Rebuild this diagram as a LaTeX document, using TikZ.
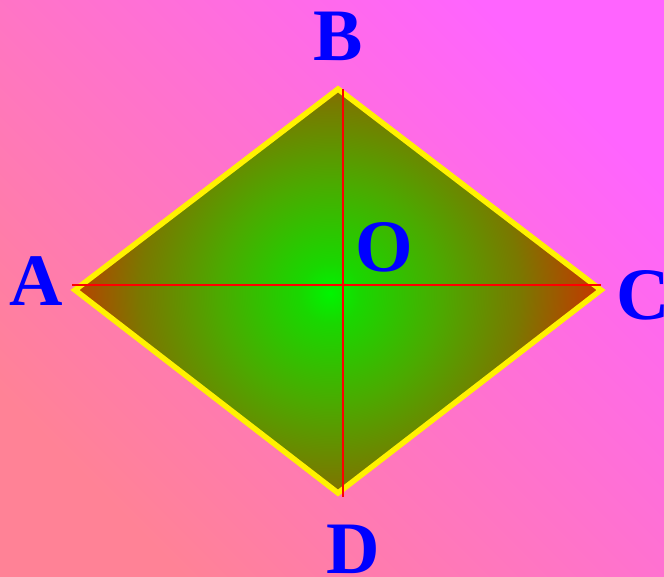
\documentclass[tikz,border=0pt]{standalone}
\usepackage{fontspec}
\setmainfont{Liberation Serif}
\definecolor{bgtr}{RGB}{255,100,255}
\definecolor{bgbl}{RGB}{255,130,150}
\definecolor{gA}{RGB}{0,245,0}
\definecolor{gB}{RGB}{25,215,0}
\definecolor{gC}{RGB}{75,170,0}
\definecolor{gD}{RGB}{122,120,0}
\definecolor{gE}{RGB}{188,62,0}
\definecolor{lblue}{RGB}{0,0,255}
\pgfdeclareradialshading{rhombshade}{\pgfpoint{0bp}{0bp}}{color(0bp)=(gA); color(2.8bp)=(gB); color(10.2bp)=(gC); color(17.6bp)=(gD); color(24bp)=(gE); color(50bp)=(gE)}
\tikzset{
  lbl/.style={font=\fontsize{74}{74}\selectfont\bfseries, text=lblue, inner sep=0pt},
  rim/.style={draw=yellow, line width=5.5pt, line join=miter},
  axisline/.style={draw=red, line width=1.8pt}
}
\begin{document}
\begin{tikzpicture}[x=1pt,y=-1pt]
\useasboundingbox (0,0) rectangle (664,577);
\shade[top color=bgtr, bottom color=bgbl, shading angle=-45] (0,0) rectangle (664,577);
\coordinate (A) at (75,290);
\coordinate (B) at (338,89);
\coordinate (C) at (601,290);
\coordinate (D) at (338,493);
\coordinate (hA) at (72,285);
\coordinate (hC) at (601,285);
\coordinate (vB) at (343,89);
\coordinate (vD) at (343,497);
\begin{scope}
  \clip (A) -- (B) -- (C) -- (D) -- cycle;
  \shade[shading=rhombshade] (330,293) circle[radius=270];
\end{scope}
\path[rim] (A) -- (B) -- (C) -- (D) -- cycle;
\path[axisline] (hA) -- (hC);
\path[axisline] (vB) -- (vD);
\node[lbl] (lA) at (36,281.5) {A};
\node[lbl] (lB) at (338,36.5) {B};
\node[lbl] (lC) at (643.5,295) {C};
\node[lbl] (lD) at (353,549) {D};
\node[lbl] (lO) at (384.5,247.5) {O};
\end{tikzpicture}
\end{document}
